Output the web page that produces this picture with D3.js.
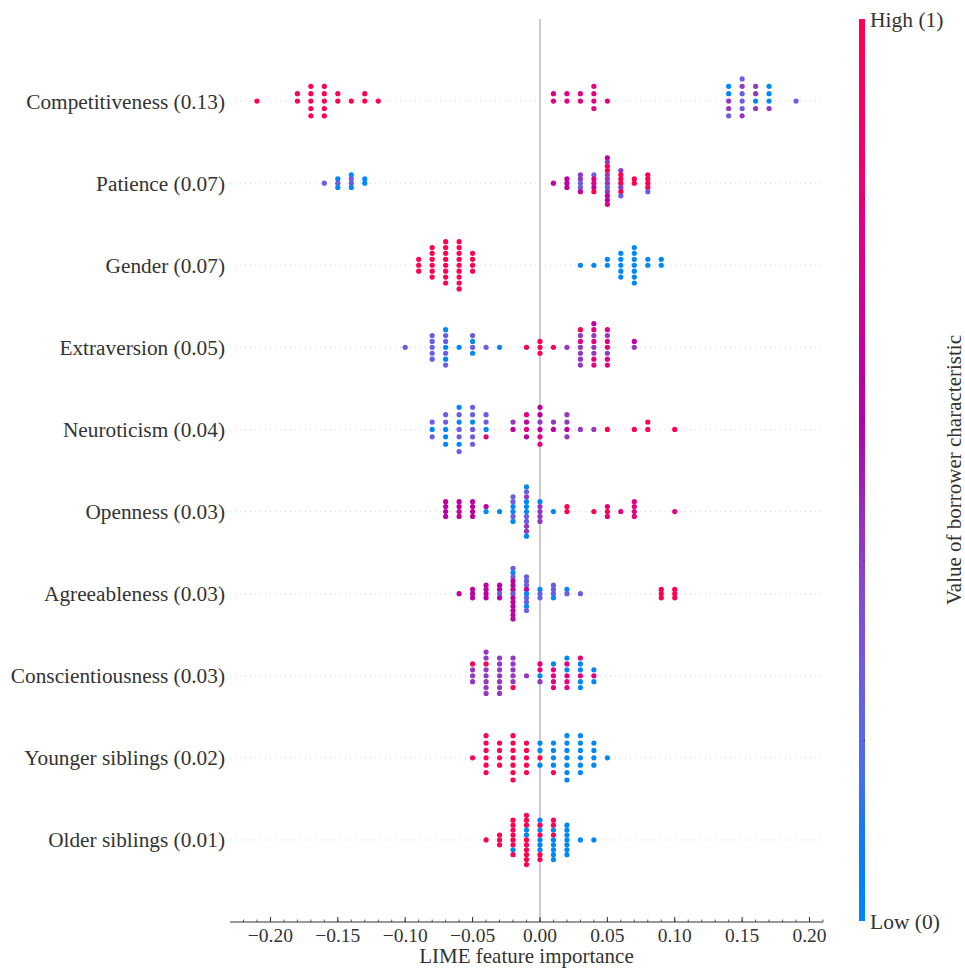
<!DOCTYPE html>
<html>
<head>
<meta charset="utf-8">
<script src="https://cdn.jsdelivr.net/npm/d3@7"></script>
<style>
  body { margin: 0; background: #fff; }
  text { font-family: "Liberation Serif", "DejaVu Serif", serif; fill: #333; }
</style>
</head>
<body>
<script>
// feature names, top to bottom
var features = ["Competitiveness (0.13)", "Patience (0.07)", "Gender (0.07)", "Extraversion (0.05)",
  "Neuroticism (0.04)", "Openness (0.03)", "Agreeableness (0.03)", "Conscientiousness (0.03)",
  "Younger siblings (0.02)", "Older siblings (0.01)"];

// each bin: [LIME importance, colour codes of the stacked dots, top to bottom]
// B low ... R high
var levels = { B: 0, V: 0.25, U: 0.42, M: 0.6, P: 0.78, R: 1 };

var competitiveness = [[-0.21, "R"], [-0.18, "RR"], [-0.17, "RRRRR"], [-0.16, "RRRRR"], [-0.15, "RR"],
  [-0.14, "R"], [-0.13, "RR"], [-0.12, "R"], [0.01, "PP"], [0.02, "PP"], [0.03, "PP"], [0.04, "PPPP"],
  [0.05, "P"], [0.14, "BBUUV"], [0.15, "VUVVVU"], [0.16, "UUBU"], [0.17, "BBBU"], [0.19, "V"]];
var patience = [[-0.16, "V"], [-0.15, "BVB"], [-0.14, "BVVB"], [-0.13, "BB"], [0.01, "M"], [0.02, "MMM"],
  [0.03, "UUVVM"], [0.04, "VPPMR"], [0.05, "MURRUUUVUMMP"], [0.06, "URRRURV"], [0.07, "RR"], [0.08, "RRRRV"]];
var gender = [[-0.09, "RRR"], [-0.08, "RRRRRR"], [-0.07, "RRRRRRRR"], [-0.06, "RRRRRRRRR"], [-0.05, "RRRR"],
  [0.03, "B"], [0.04, "B"], [0.05, "BB"], [0.06, "BBBBB"], [0.07, "BBBBBBB"], [0.08, "BB"], [0.09, "BB"]];
var extraversion = [[-0.10, "V"], [-0.08, "VVVVV"], [-0.07, "BVVBVBV"], [-0.06, "B"], [-0.05, "VBVB"],
  [-0.04, "V"], [-0.03, "B"], [-0.01, "R"], [0.00, "RRR"], [0.01, "R"], [0.02, "U"], [0.03, "RUPUUUU"],
  [0.04, "MPUPUUPP"], [0.05, "PUPPUPP"], [0.07, "MU"]];
var neuroticism = [[-0.08, "VBV"], [-0.07, "VVBBB"], [-0.06, "BVBVVBV"], [-0.05, "VVBVVV"], [-0.04, "VVBP"],
  [-0.02, "UM"], [-0.01, "PMPM"], [0.00, "MMUMPP"], [0.01, "UM"], [0.02, "UUMU"], [0.03, "U"], [0.04, "U"],
  [0.05, "R"], [0.07, "R"], [0.08, "RR"], [0.10, "R"]];
var openness = [[-0.07, "MMMM"], [-0.06, "MMMM"], [-0.05, "MMMM"], [-0.04, "MB"], [-0.03, "B"],
  [-0.02, "VVBBVB"], [-0.01, "BVUBBBVVUUB"], [0.00, "BUUUU"], [0.01, "B"], [0.02, "RR"], [0.04, "R"],
  [0.05, "PRP"], [0.06, "P"], [0.07, "PPPP"], [0.10, "P"]];
var agreeableness = [[-0.06, "M"], [-0.05, "MMM"], [-0.04, "MMMM"], [-0.03, "MMVM"], [-0.02, "VBVMMMVMMMMMM"],
  [-0.01, "VVVMBVVBV"], [0.00, "BVV"], [0.01, "VVVB"], [0.02, "BV"], [0.03, "V"], [0.09, "RRR"], [0.10, "RRR"]];
var conscientiousness = [[-0.05, "RUUU"], [-0.04, "UURUUUUU"], [-0.03, "UUUUUUU"], [-0.02, "UUUUUR"],
  [-0.01, "U"], [0.00, "PPBU"], [0.01, "BPPPP"], [0.02, "BPBPPP"], [0.03, "PBBPBB"], [0.04, "BPB"]];
var youngerSiblings = [[-0.05, "R"], [-0.04, "RRRRRR"], [-0.03, "RRRR"], [-0.02, "RRRRRRR"], [-0.01, "RRRRR"],
  [0.00, "BBRB"], [0.01, "BBBBR"], [0.02, "BBBBBBB"], [0.03, "BBBBBB"], [0.04, "BBBB"], [0.05, "B"]];
var olderSiblings = [[-0.04, "R"], [-0.03, "RRR"], [-0.02, "RRRRRRBR"], [-0.01, "RRRBBRRRRRR"],
  [0.00, "BRBRBBBRR"], [0.01, "RRBRBBBBB"], [0.02, "BBBBBBB"], [0.03, "B"], [0.04, "B"]];

var featureBins = [competitiveness, patience, gender, extraversion, neuroticism, openness,
  agreeableness, conscientiousness, youngerSiblings, olderSiblings];

var xTicks = [-0.20, -0.15, -0.10, -0.05, 0.00, 0.05, 0.10, 0.15, 0.20];
var xMinorTicks = d3.range(-22, 22).map(function(k){ return k / 100; });
var colorTicks = [0.2, 0.4, 0.6, 0.8];

var w = 965, h = 969;
var svg = d3.select("body").append("svg").attr("width", w).attr("height", h);

var x = d3.scaleLinear().domain([-0.23, 0.21]).range([230, 823]);
var y = d3.scaleLinear().domain([-1, features.length]).range([922, 19]);

// shap red_blue map, lch from blue to red with darker middle
function redBlue(t) {
  var l = t < 0.5 ? 54 - 28 * t : 40 + 28 * (t - 0.5);
  return d3.hcl(267 + t * (380.3 - 267), 70 + 20 * t, l).formatHex();
}

// grid lines and zero line
features.forEach(function(f, i) {
  var pos = features.length - 1 - i;
  svg.append("line")
    .attr("x1", x.range()[0]).attr("x2", x.range()[1])
    .attr("y1", y(pos)).attr("y2", y(pos))
    .attr("stroke", "#cccccc").attr("stroke-width", 0.8).attr("stroke-dasharray", "1,4");
});
svg.append("line")
  .attr("x1", x(0)).attr("x2", x(0)).attr("y1", y(features.length)).attr("y2", y(-1))
  .attr("stroke", "#999").attr("stroke-width", 1);

// dots
var dots = [];
featureBins.forEach(function(bins, i) {
  var pos = features.length - 1 - i;
  var maxN = d3.max(bins, function(b){ return b[1].length; });
  var step = 0.9 * 0.4 / (Math.floor(maxN / 2) + 1);
  bins.forEach(function(b) {
    var n = b[1].length, top = Math.floor(n / 2);
    b[1].split("").forEach(function(c, k) {
      dots.push({ v: b[0], y: pos + (top - k) * step, c: levels[c] });
    });
  });
});
svg.append("g").selectAll("circle").data(dots).enter().append("circle")
  .attr("cx", function(d){ return x(d.v); })
  .attr("cy", function(d){ return y(d.y); })
  .attr("r", 2.6)
  .attr("fill", function(d){ return redBlue(d.c); });

// feature labels
svg.append("g").selectAll("text").data(features).enter().append("text")
  .attr("x", 225)
  .attr("y", function(d, i){ return y(features.length - 1 - i); })
  .attr("dy", "0.35em")
  .attr("text-anchor", "end")
  .attr("font-size", 21.3)
  .text(function(d){ return d; });

// x axis
var ax = svg.append("g");
ax.append("line").attr("x1", x.range()[0]).attr("x2", x.range()[1])
  .attr("y1", 922).attr("y2", 922).attr("stroke", "#333").attr("stroke-width", 1.2);
ax.selectAll(".minor").data(xMinorTicks).enter().append("line")
  .attr("x1", function(d){ return x(d); }).attr("x2", function(d){ return x(d); })
  .attr("y1", 922).attr("y2", 919.5).attr("stroke", "#333").attr("stroke-width", 0.8);
ax.selectAll(".major").data(xTicks).enter().append("line")
  .attr("x1", function(d){ return x(d); }).attr("x2", function(d){ return x(d); })
  .attr("y1", 922).attr("y2", 917).attr("stroke", "#333").attr("stroke-width", 1);
ax.selectAll("text").data(xTicks).enter().append("text")
  .attr("x", function(d){ return x(d); })
  .attr("y", 942)
  .attr("text-anchor", "middle")
  .attr("font-size", 19.5)
  .text(d3.format(".2f"));
svg.append("text").attr("x", (x.range()[0] + x.range()[1]) / 2).attr("y", 963)
  .attr("text-anchor", "middle").attr("font-size", 21).text("LIME feature importance");

// colour bar
var grad = svg.append("defs").append("linearGradient").attr("id", "cbar")
  .attr("x1", 0).attr("y1", 1).attr("x2", 0).attr("y2", 0);
d3.range(0, 1.0001, 0.05).forEach(function(t) {
  grad.append("stop").attr("offset", t).attr("stop-color", redBlue(t));
});
var cy = d3.scaleLinear().domain([0, 1]).range([921, 19]);
svg.append("rect").attr("x", 859).attr("y", cy(1)).attr("width", 6).attr("height", cy(0) - cy(1))
  .attr("fill", "url(#cbar)");
svg.selectAll(".ctick").data(colorTicks).enter().append("line")
  .attr("x1", 863.5).attr("x2", 865).attr("y1", function(d){ return cy(d); }).attr("y2", function(d){ return cy(d); })
  .attr("stroke", "#333").attr("stroke-width", 1);
svg.append("text").attr("x", 870).attr("y", cy(1)).attr("dy", "0.35em").attr("font-size", 21.5).text("High (1)");
svg.append("text").attr("x", 870).attr("y", cy(0)).attr("dy", "0.35em").attr("font-size", 21.5).text("Low (0)");
svg.append("text").attr("transform", "translate(954," + (cy(0.5)) + ") rotate(-90)")
  .attr("text-anchor", "middle").attr("dy", "0.32em").attr("font-size", 21)
  .text("Value of borrower characteristic");
</script>
</body>
</html>
